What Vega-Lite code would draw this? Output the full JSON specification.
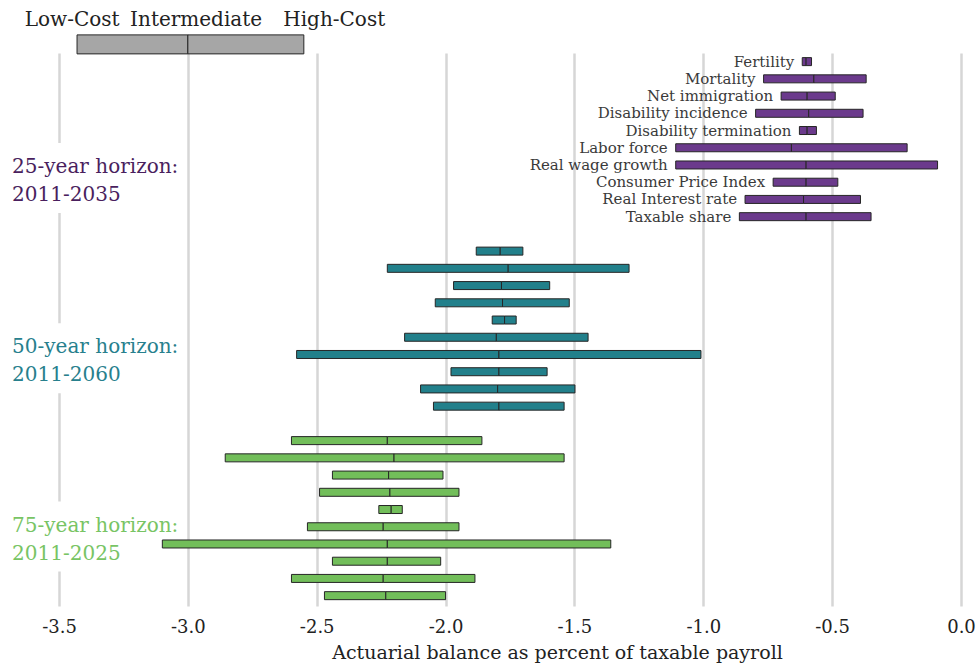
{
  "$schema": "https://vega.github.io/schema/vega-lite/v6.json",
  "autosize": "none",
  "width": 902,
  "height": 553,
  "padding": {"left": 59, "top": 53, "right": 18, "bottom": 60},
  "background": "white",
  "config": {
    "view": {"stroke": null},
    "font": "DejaVu Serif",
    "text": {"font": "DejaVu Serif", "lineBreak": "\n"}
  },
  "datasets": {
    "ranges": [
      {"group": "25", "label": "Fertility", "row": 0, "low": -0.616, "mid": -0.601, "high": -0.58},
      {"group": "25", "label": "Mortality", "row": 1, "low": -0.766, "mid": -0.571, "high": -0.368},
      {"group": "25", "label": "Net immigration", "row": 2, "low": -0.698, "mid": -0.597, "high": -0.488},
      {"group": "25", "label": "Disability incidence", "row": 3, "low": -0.797, "mid": -0.591, "high": -0.38},
      {"group": "25", "label": "Disability termination", "row": 4, "low": -0.627, "mid": -0.597, "high": -0.561},
      {"group": "25", "label": "Labor force", "row": 5, "low": -1.107, "mid": -0.658, "high": -0.209},
      {"group": "25", "label": "Real wage growth", "row": 6, "low": -1.107, "mid": -0.601, "high": -0.091},
      {"group": "25", "label": "Consumer Price Index", "row": 7, "low": -0.729, "mid": -0.601, "high": -0.478},
      {"group": "25", "label": "Real Interest rate", "row": 8, "low": -0.838, "mid": -0.611, "high": -0.39},
      {"group": "25", "label": "Taxable share", "row": 9, "low": -0.86, "mid": -0.601, "high": -0.349},
      {"group": "50", "label": "Fertility", "row": 11, "low": -1.881, "mid": -1.788, "high": -1.7},
      {"group": "50", "label": "Mortality", "row": 12, "low": -2.226, "mid": -1.757, "high": -1.288},
      {"group": "50", "label": "Net immigration", "row": 13, "low": -1.969, "mid": -1.783, "high": -1.596},
      {"group": "50", "label": "Disability incidence", "row": 14, "low": -2.04, "mid": -1.779, "high": -1.52},
      {"group": "50", "label": "Disability termination", "row": 15, "low": -1.819, "mid": -1.771, "high": -1.726},
      {"group": "50", "label": "Labor force", "row": 16, "low": -2.159, "mid": -1.803, "high": -1.447},
      {"group": "50", "label": "Real wage growth", "row": 17, "low": -2.578, "mid": -1.793, "high": -1.009},
      {"group": "50", "label": "Consumer Price Index", "row": 18, "low": -1.979, "mid": -1.793, "high": -1.606},
      {"group": "50", "label": "Real Interest rate", "row": 19, "low": -2.097, "mid": -1.798, "high": -1.498},
      {"group": "50", "label": "Taxable share", "row": 20, "low": -2.047, "mid": -1.793, "high": -1.54},
      {"group": "75", "label": "Fertility", "row": 22, "low": -2.598, "mid": -2.226, "high": -1.859},
      {"group": "75", "label": "Mortality", "row": 23, "low": -2.855, "mid": -2.2, "high": -1.54},
      {"group": "75", "label": "Net immigration", "row": 24, "low": -2.439, "mid": -2.221, "high": -2.01},
      {"group": "75", "label": "Disability incidence", "row": 25, "low": -2.489, "mid": -2.216, "high": -1.948},
      {"group": "75", "label": "Disability termination", "row": 26, "low": -2.259, "mid": -2.211, "high": -2.168},
      {"group": "75", "label": "Labor force", "row": 27, "low": -2.536, "mid": -2.242, "high": -1.948},
      {"group": "75", "label": "Real wage growth", "row": 28, "low": -3.099, "mid": -2.226, "high": -1.359},
      {"group": "75", "label": "Consumer Price Index", "row": 29, "low": -2.439, "mid": -2.226, "high": -2.019},
      {"group": "75", "label": "Real Interest rate", "row": 30, "low": -2.598, "mid": -2.242, "high": -1.886},
      {"group": "75", "label": "Taxable share", "row": 31, "low": -2.47, "mid": -2.232, "high": -2.0}
    ],
    "horizons": [
      {"group": "25", "text": "25-year horizon:\n2011-2035", "x": -3.682, "row": 6.47},
      {"group": "50", "text": "50-year horizon:\n2011-2060", "x": -3.682, "row": 16.93},
      {"group": "75", "text": "75-year horizon:\n2011-2025", "x": -3.682, "row": 27.28}
    ],
    "key": [
      {"low": -3.43, "mid": -3.0, "high": -2.55, "row": -1}
    ],
    "keyText": [
      {"text": "Low-Cost", "x": -3.449, "row": -2.07},
      {"text": "Intermediate", "x": -2.968, "row": -2.07},
      {"text": "High-Cost", "x": -2.432, "row": -2.07}
    ]
  },
  "encoding": {
    "x": {
      "type": "quantitative",
      "scale": {"domain": [-3.5, 0], "nice": false, "zero": false, "padding": 0},
      "axis": {
        "title": "Actuarial balance as percent of taxable payroll",
        "values": [-3.5, -3, -2.5, -2, -1.5, -1, -0.5, 0],
        "labelExpr": "replace(format(datum.value, '.1f'), '−', '-')",
        "labelFlush": false,
        "labelOverlap": false,
        "domain": false,
        "ticks": false,
        "grid": true,
        "gridColor": "#d6d6d6",
        "gridWidth": 2.5,
        "labelFont": "DejaVu Serif",
        "labelFontSize": 18,
        "labelColor": "#222222",
        "labelPadding": 12,
        "titleFont": "DejaVu Serif",
        "titleFontSize": 19,
        "titleFontWeight": "normal",
        "titleColor": "#222222",
        "titleX": 498,
        "titleAlign": "center",
        "titlePadding": 7
      }
    },
    "y": {
      "type": "quantitative",
      "scale": {"domain": [-0.5, 31.6], "reverse": true, "nice": false, "zero": false, "padding": 0},
      "axis": null
    }
  },
  "layer": [
    {
      "data": {"name": "horizons"},
      "mark": {"type": "rect", "fill": "white", "xOffset": -8, "yOffset": -30, "y2Offset": 40},
      "encoding": {
        "x": {"field": "x", "type": "quantitative"},
        "x2": {"datum": -3.025},
        "y": {"field": "row", "type": "quantitative"},
        "y2": {"field": "row"}
      }
    },
    {
      "data": {"name": "ranges"},
      "mark": {"type": "bar", "size": 8, "stroke": "#262626", "strokeWidth": 1, "orient": "horizontal"},
      "encoding": {
        "x": {"field": "low", "type": "quantitative"},
        "x2": {"field": "mid"},
        "y": {"field": "row", "type": "quantitative"},
        "color": {
          "field": "group", "type": "nominal", "legend": null,
          "scale": {"domain": ["25", "50", "75"], "range": ["#6b3a8c", "#22808b", "#72be5a"]}
        }
      }
    },
    {
      "data": {"name": "ranges"},
      "mark": {"type": "bar", "size": 8, "stroke": "#262626", "strokeWidth": 1, "orient": "horizontal"},
      "encoding": {
        "x": {"field": "mid", "type": "quantitative"},
        "x2": {"field": "high"},
        "y": {"field": "row", "type": "quantitative"},
        "color": {
          "field": "group", "type": "nominal", "legend": null,
          "scale": {"domain": ["25", "50", "75"], "range": ["#6b3a8c", "#22808b", "#72be5a"]}
        }
      }
    },
    {
      "data": {"name": "ranges"},
      "transform": [{"filter": "datum.group == '25'"}],
      "mark": {"type": "text", "align": "right", "baseline": "middle", "dx": -8, "dy": 0, "fontSize": 15, "color": "#3a3a3a"},
      "encoding": {
        "x": {"field": "low", "type": "quantitative"},
        "y": {"field": "row", "type": "quantitative"},
        "text": {"field": "label"}
      }
    },
    {
      "data": {"name": "horizons"},
      "mark": {"type": "text", "align": "left", "baseline": "alphabetic", "fontSize": 20, "lineHeight": 28},
      "encoding": {
        "x": {"field": "x", "type": "quantitative"},
        "y": {"field": "row", "type": "quantitative"},
        "text": {"field": "text"},
        "color": {
          "field": "group", "type": "nominal", "legend": null,
          "scale": {"domain": ["25", "50", "75"], "range": ["#4a1f5e", "#27808d", "#78c464"]}
        }
      }
    },
    {
      "data": {"name": "key"},
      "mark": {"type": "bar", "size": 19, "fill": "#a6a6a6", "stroke": "#262626", "strokeWidth": 1, "orient": "horizontal"},
      "encoding": {
        "x": {"field": "low", "type": "quantitative"},
        "x2": {"field": "mid"},
        "y": {"field": "row", "type": "quantitative"}
      }
    },
    {
      "data": {"name": "key"},
      "mark": {"type": "bar", "size": 19, "fill": "#a6a6a6", "stroke": "#262626", "strokeWidth": 1, "orient": "horizontal"},
      "encoding": {
        "x": {"field": "mid", "type": "quantitative"},
        "x2": {"field": "high"},
        "y": {"field": "row", "type": "quantitative"}
      }
    },
    {
      "data": {"name": "keyText"},
      "mark": {"type": "text", "align": "center", "baseline": "alphabetic", "fontSize": 20, "color": "#222222"},
      "encoding": {
        "x": {"field": "x", "type": "quantitative"},
        "y": {"field": "row", "type": "quantitative"},
        "text": {"field": "text"}
      }
    }
  ],
  "resolve": {"scale": {"color": "independent"}}
}
